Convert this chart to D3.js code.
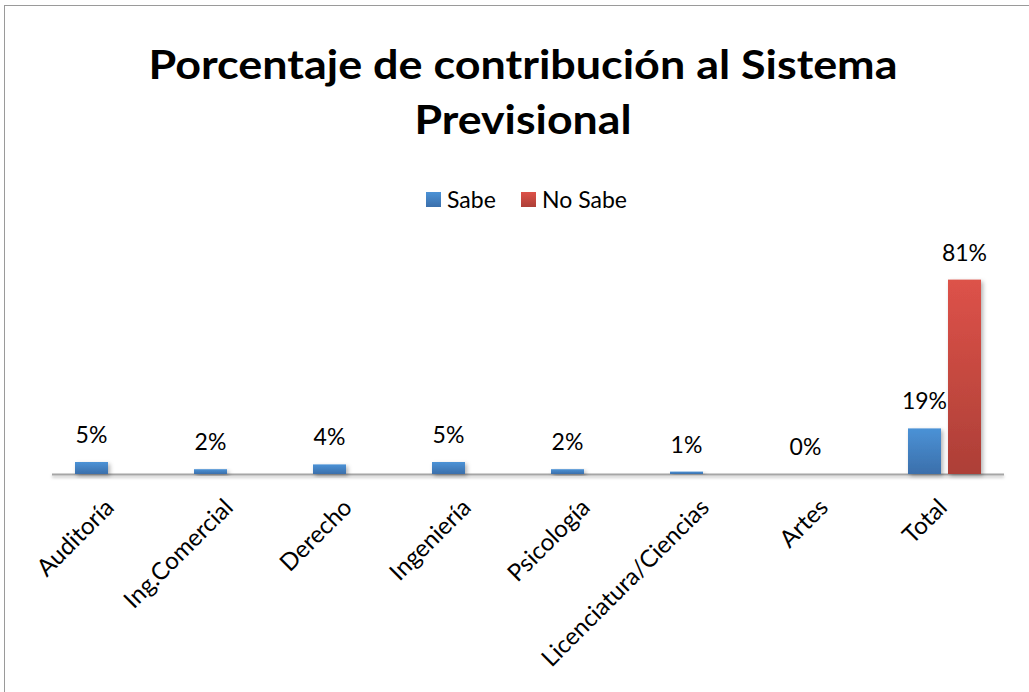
<!DOCTYPE html>
<html>
<head>
<meta charset="utf-8">
<script src="https://cdn.jsdelivr.net/npm/d3@7"></script>
<style>
  html, body { margin: 0; padding: 0; background: #fff; }
  svg text { font-family: Lato, "Open Sans", sans-serif; fill: #000; }
</style>
</head>
<body>
<div id="chart"></div>
<script>
// data
const categories = ["Auditoría", "Ing.Comercial", "Derecho", "Ingeniería", "Psicología", "Licenciatura/Ciencias", "Artes", "Total"];
const series = ["Sabe", "No Sabe"];
const sabe = [5, 2, 4, 5, 2, 1, 0, 19];
const noSabe = [null, null, null, null, null, null, null, 81];
const titleLines = ["Porcentaje de contribución al Sistema", "Previsional"];

const width = 1029, height = 692,
    margin = { left: 52, right: 25, baseline: 474 },
    colors = { "Sabe": ["#4b92d6", "#3b6fab"], "No Sabe": ["#dd5249", "#ad3f37"] };

const rows = categories.map((c, i) => ({ cat: c, values: [
    { key: "Sabe", value: sabe[i] },
    { key: "No Sabe", value: noSabe[i] }
] }));

const svg = d3.select("#chart").append("svg")
    .attr("width", width)
    .attr("height", height);

const defs = svg.append("defs");
series.forEach((s, i) => {
    const g = defs.append("linearGradient")
        .attr("id", "grad" + i)
        .attr("x1", 0).attr("y1", 0).attr("x2", 0).attr("y2", 1);
    g.append("stop").attr("offset", "0%").attr("stop-color", colors[s][0]);
    g.append("stop").attr("offset", "100%").attr("stop-color", colors[s][1]);
});
defs.append("filter").attr("id", "shadow")
    .attr("x", "-20%").attr("y", "-20%").attr("width", "160%").attr("height", "160%")
    .append("feDropShadow")
    .attr("dx", 2).attr("dy", 2).attr("stdDeviation", 2)
    .attr("flood-color", "#000").attr("flood-opacity", 0.3);
defs.append("filter").attr("id", "lineShadow")
    .attr("filterUnits", "userSpaceOnUse")
    .attr("x", 0).attr("y", 460).attr("width", width).attr("height", 30)
    .append("feDropShadow")
    .attr("dx", 0).attr("dy", 2).attr("stdDeviation", 1.5)
    .attr("flood-color", "#000").attr("flood-opacity", 0.25);

// chart border (runs off the right and bottom edge)
svg.append("rect")
    .attr("x", 4.5).attr("y", 5.5)
    .attr("width", width + 20).attr("height", height + 20)
    .attr("fill", "none").attr("stroke", "#9a9a9a").attr("stroke-width", 1);

// title
svg.append("g").selectAll("text")
    .data(titleLines)
    .join("text")
    .attr("x", 523)
    .attr("y", (d, i) => 79 + i * 55)
    .attr("text-anchor", "middle")
    .attr("font-size", 41)
    .attr("font-weight", "bold")
    .attr("textLength", (d, i) => i === 0 ? 749 : 217)
    .attr("lengthAdjust", "spacingAndGlyphs")
    .text(d => d);

// legend
const legend = svg.append("g").attr("transform", "translate(426,192)");
const legendX = [0, 95];
series.forEach((s, i) => {
    const item = legend.append("g").attr("transform", `translate(${legendX[i]},0)`);
    item.append("rect").attr("width", 15).attr("height", 15).attr("fill", `url(#grad${i})`);
    item.append("text").attr("x", 21).attr("y", 16).attr("font-size", 23).text(s);
});

// scales
const x0 = d3.scaleBand()
    .domain(categories)
    .range([margin.left, width - margin.right]);

const x1 = d3.scaleBand()
    .domain(series)
    .range([23, x0.bandwidth() - 23])
    .paddingInner(0.175);

const y = d3.scaleLinear()
    .domain([0, 100])
    .range([margin.baseline, margin.baseline - 240]);

// axis line
svg.append("line")
    .attr("x1", margin.left).attr("x2", width - margin.right)
    .attr("y1", margin.baseline + 0.5).attr("y2", margin.baseline + 0.5)
    .attr("stroke", "#a6a6a6").attr("stroke-width", 2)
    .attr("filter", "url(#lineShadow)");

// bars
const groups = svg.append("g").selectAll("g")
    .data(rows)
    .join("g")
    .attr("transform", d => `translate(${x0(d.cat)},0)`);

groups.selectAll("rect")
    .data(d => d.values.filter(v => v.value !== null))
    .join("rect")
    .attr("x", d => x1(d.key))
    .attr("width", x1.bandwidth())
    .attr("y", d => y(d.value))
    .attr("height", d => y(0) - y(d.value))
    .attr("fill", d => `url(#grad${series.indexOf(d.key)})`)
    .attr("filter", "url(#shadow)");

// value labels
groups.selectAll("text")
    .data(d => d.values.filter(v => v.value !== null))
    .join("text")
    .attr("x", d => x1(d.key) + x1.bandwidth() / 2)
    .attr("y", d => y(d.value) - 19)
    .attr("text-anchor", "middle")
    .attr("font-size", 23)
    .text(d => d.value + "%");

// category labels, rotated
svg.append("g").selectAll("text")
    .data(categories)
    .join("text")
    .attr("transform", d => `translate(${x0(d) + x0.bandwidth() / 2 + 4},${margin.baseline + 35}) rotate(-45)`)
    .attr("text-anchor", "end")
    .attr("font-size", 24)
    .text(d => d);
</script>
</body>
</html>
